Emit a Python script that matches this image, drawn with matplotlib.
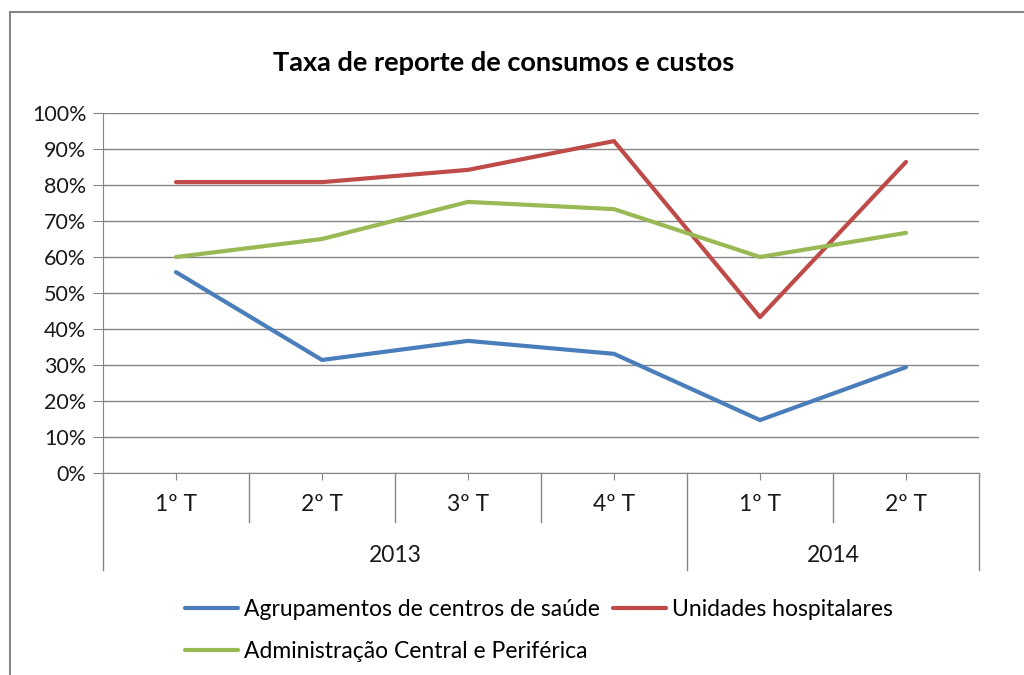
import numpy as np
import matplotlib.pyplot as plt
from matplotlib.patches import Rectangle

plt.rcParams['font.family'] = ['Lato', 'DejaVu Sans']

quarters = ['1º T', '2º T', '3º T', '4º T', '1º T', '2º T']
years = ['2013', '2014']
year_sizes = [4, 2]

agrupamentos = [0.558, 0.314, 0.367, 0.331, 0.147, 0.294]
hospitalares = [0.808, 0.808, 0.842, 0.922, 0.433, 0.864]
administracao = [0.600, 0.650, 0.753, 0.733, 0.600, 0.667]

blue = '#4A7EBB'
red = '#BE4B48'
green = '#98B954'
grey = '#868686'
txt = '#1a1a1a'

fig = plt.figure(figsize=(10.24, 6.75), dpi=100)
ax = fig.add_axes([103/1024, 1-473/675, 876/1024, 360/675])

x = np.arange(len(quarters))
l1, = ax.plot(x, agrupamentos, color=blue, lw=3, solid_capstyle='round',
              label='Agrupamentos de centros de saúde')
l2, = ax.plot(x, hospitalares, color=red, lw=3, solid_capstyle='round',
              label='Unidades hospitalares')
l3, = ax.plot(x, administracao, color=green, lw=3, solid_capstyle='round',
              label='Administração Central e Periférica')

ax.set_xlim(-0.5, len(quarters) - 0.5)
ax.set_ylim(0, 1)
yt = np.arange(0, 1.01, 0.1)
ax.set_yticks(yt)
ax.set_yticklabels(['%d%%' % round(v * 100) for v in yt], fontsize=15.5, color=txt)
ax.tick_params(axis='y', length=7, color=grey, pad=5)
ax.grid(axis='y', color=grey, lw=1)
ax.set_axisbelow(True)

ax.set_xticks(x)
ax.set_xticklabels([])
ax.tick_params(axis='x', length=5, color=grey)

for s in ['top', 'right']:
    ax.spines[s].set_visible(False)
for s in ['left', 'bottom']:
    ax.spines[s].set_color(grey)

# multi-level category axis
tr = ax.get_xaxis_transform()
for i, q in enumerate(quarters):
    ax.text(i, -0.088, q, transform=tr, ha='center', va='center',
            fontsize=16.5, color=txt)

edges = np.cumsum([0] + year_sizes) - 0.5
for e in edges:
    ax.plot([e, e], [0, -0.269], transform=tr, color=grey, lw=1, clip_on=False)
for i in range(len(quarters) - 1):
    b = i + 0.5
    if b not in edges:
        ax.plot([b, b], [0, -0.136], transform=tr, color=grey, lw=1, clip_on=False)
for k, yr in enumerate(years):
    mid = (edges[k] + edges[k + 1]) / 2
    ax.text(mid, -0.228, yr, transform=tr, ha='center', va='center',
            fontsize=16.5, color=txt)

fig.suptitle('Taxa de reporte de consumos e custos', x=504/1024, y=1-63/675,
             va='center', fontsize=19.5, fontweight='bold')

fig.legend(handles=[l1, l3, l2], ncol=2, loc='upper left',
           bbox_to_anchor=(176/1024, 1-590/675), frameon=False,
           fontsize=16.5, handlelength=2.3, handletextpad=0.25,
           columnspacing=0.6, labelspacing=0.9, borderaxespad=0)

fig.patches.append(Rectangle((10/1024, -0.1), 1.2, 1 - 12/675 + 0.1,
                             transform=fig.transFigure, fill=False,
                             edgecolor=grey, lw=1.5))

fig.savefig('out.png', dpi=100)
